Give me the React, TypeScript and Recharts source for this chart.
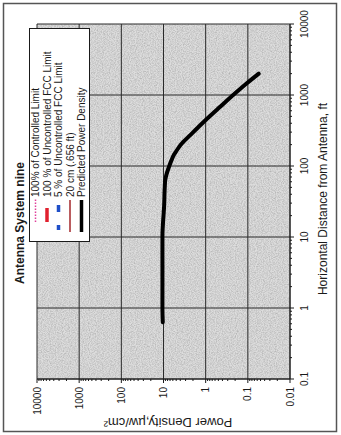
import { LineChart, Line, XAxis, YAxis, CartesianGrid } from 'recharts'

// Predicted power density vs. horizontal distance
const distanceFt = [0.63, 1, 3, 10, 30, 46, 63, 70, 100, 121, 143, 168, 198, 274, 400, 687, 1064, 1473, 2000]
const powerDensity = [10.4, 10.6, 10.6, 10.6, 9.6, 9.4, 9.1, 8.8, 7.3, 6.45, 5.7, 4.78, 3.95, 2.29, 1.2, 0.446, 0.197, 0.104, 0.055]

const distanceDecades = [0.1, 1, 10, 100, 1000, 10000]
const distanceLabels = ['0.1', '1', '10', '100', '1000', '10000']
const densityDecades = [0.01, 0.1, 1, 10, 100, 1000, 10000]
const densityLabels = ['0.01', '0.1', '1', '10', '100', '1000', '10000']

const legendNames = [
  '100% of Controlled Limit',
  '100 % of Uncontrolled FCC Limit',
  '5 % of Uncontrolled FCC Limit',
  '20 cm (.656 ft)',
  'Predicted Power Density',
]

const data = distanceFt.map((d, i) => ({ dist: d, density: powerDensity[i] }))

// decade values plus the 2..9 minor ticks between them
const withMinors = (decades: number[]) =>
  decades.flatMap((d, i) =>
    i === decades.length - 1 ? [d] : [d, ...[2, 3, 4, 5, 6, 7, 8, 9].map((m) => +(d * m).toPrecision(3))]
  )

const FONT = '"Liberation Sans", Arial, sans-serif'
const INK = '#1a1a1a'

function DistanceTick({ x, y, payload }: any) {
  const i = distanceDecades.indexOf(payload.value)
  const major = i >= 0
  return (
    <g>
      <line x1={x} x2={x} y1={y} y2={y + (major ? 4 : 2)} stroke={INK} strokeWidth={1} />
      {major && (
        <text x={x} y={y + 18} textAnchor="middle" fontSize={10} fontFamily={FONT} fill={INK}>
          {distanceLabels[i]}
        </text>
      )}
    </g>
  )
}

function DensityTick({ x, y, payload }: any) {
  const i = densityDecades.indexOf(payload.value)
  const major = i >= 0
  return (
    <g>
      <line x1={x} x2={x - (major ? 4 : 2)} y1={y} y2={y} stroke={INK} strokeWidth={1} />
      {major && (
        <text x={x - 8} y={y} dy="0.35em" textAnchor="end" fontSize={10} fontFamily={FONT} fill={INK}>
          {densityLabels[i]}
        </text>
      )}
    </g>
  )
}

function LegendSymbol({ index, y }: { index: number; y: number }) {
  switch (index) {
    case 0:
      return <line x1={213} x2={236} y1={y} y2={y} stroke="#e0409a" strokeWidth={1.5} strokeDasharray="1.5 1.5" />
    case 1:
      return <line x1={213} x2={227} y1={y} y2={y} stroke="#e0202e" strokeWidth={3.5} />
    case 2:
      return (
        <g stroke="#1f4fc8" strokeWidth={3.5}>
          <line x1={205} x2={210} y1={y} y2={y} />
          <line x1={223} x2={230} y1={y} y2={y} />
        </g>
      )
    case 3:
      return <line x1={203} x2={235} y1={y} y2={y} stroke="#a3262a" strokeWidth={1.5} />
    default:
      return <line x1={203} x2={235} y1={y} y2={y} stroke="#000" strokeWidth={3.5} />
  }
}

function Overlay() {
  return (
    <svg
      width={435}
      height={341}
      style={{ position: 'absolute', left: 0, top: 0, pointerEvents: 'none' }}
      fontFamily={FONT}
    >
      <defs>
        {/* speckled plot background, used by the grid fill */}
        <filter id="grainFilter" x="0" y="0" width="100%" height="100%">
          <feTurbulence type="fractalNoise" baseFrequency="0.85" numOctaves={2} seed={7} result="n" />
          <feColorMatrix in="n" type="matrix" values="0 0 0 0 0  0 0 0 0 0  0 0 0 0 0  0.35 0 0 0 -0.12" />
        </filter>
        <pattern id="plotGrain" patternUnits="userSpaceOnUse" width={435} height={341}>
          <rect width={435} height={341} fill="#dddddd" />
          <rect width={435} height={341} filter="url(#grainFilter)" />
        </pattern>
      </defs>
      <rect x={3.5} y={3.5} width={428} height={333} fill="none" stroke="#555" strokeWidth={1.5} />
      <text x={212} y={23.5} textAnchor="middle" fontSize={12} fontWeight="bold" fill={INK}>
        Antenna System nine
      </text>
      <text x={236} y={327} textAnchor="middle" fontSize={12} fill={INK}>
        Horizontal Distance from Antenna, ft
      </text>
      <text
        x={12}
        y={168}
        dy="0.35em"
        textAnchor="middle"
        fontSize={13}
        fill={INK}
        transform="rotate(-90 12 168)"
      >
        Power Density,µw/cm²
      </text>
      <rect x={193.5} y={29.5} width={213} height={60} fill="#fff" stroke={INK} strokeWidth={1} />
      {legendNames.map((name, i) => {
        const y = 35.5 + i * 11.5
        return (
          <g key={name}>
            <LegendSymbol index={i} y={y} />
            <text x={238} y={y} dy="0.35em" fontSize={10} fill={INK}>
              {name}
            </text>
          </g>
        )
      })}
    </svg>
  )
}

export default function App() {
  return (
    <div style={{ position: 'absolute', left: 0, top: 0, width: 341, height: 435, overflow: 'hidden', background: '#fff' }}>
      {/* chart laid out landscape, then turned a quarter-turn counter-clockwise */}
      <div
        style={{
          position: 'absolute',
          left: 0,
          top: 0,
          width: 435,
          height: 341,
          transformOrigin: '0 0',
          transform: 'translate(0px, 435px) rotate(-90deg)',
        }}
      >
        <LineChart width={435} height={341} data={data} margin={{ top: 37, right: 24, bottom: 0, left: 0 }}>
          <CartesianGrid
            fill="url(#plotGrain)"
            fillOpacity={1}
            stroke="#2a2a2a"
            strokeWidth={1}
            verticalValues={distanceDecades}
            horizontalValues={densityDecades}
          />
          <XAxis
            dataKey="dist"
            type="number"
            scale="log"
            domain={[0.1, 10000]}
            allowDataOverflow
            ticks={withMinors(distanceDecades)}
            interval={0}
            height={51}
            tickSize={0}
            tickMargin={0}
            tickLine={false}
            axisLine={{ stroke: INK }}
            tick={<DistanceTick />}
          />
          <YAxis
            type="number"
            scale="log"
            domain={[0.01, 10000]}
            allowDataOverflow
            ticks={withMinors(densityDecades)}
            interval={0}
            width={56}
            tickSize={0}
            tickMargin={0}
            tickLine={false}
            axisLine={{ stroke: INK }}
            tick={<DensityTick />}
          />
          <Line
            type="monotone"
            dataKey="density"
            stroke="#000"
            strokeWidth={4}
            strokeLinecap="round"
            dot={false}
            isAnimationActive={false}
          />
        </LineChart>
        <Overlay />
      </div>
    </div>
  )
}
